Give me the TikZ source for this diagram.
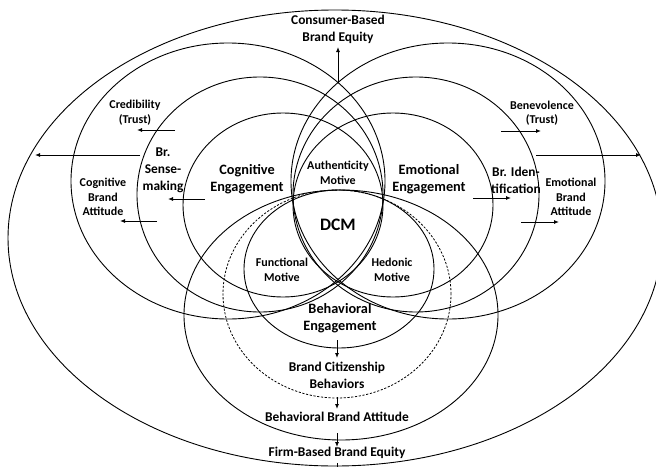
\documentclass[tikz,border=0pt]{standalone}
\usepackage{fontspec}
\setmainfont{Carlito}
\usepackage{tikz}
\usetikzlibrary{arrows.meta, positioning}

\begin{document}
\begin{tikzpicture}[x=1pt, y=-1pt, >={Latex[length=5pt,width=4pt]}, line width=0.9pt]
    \tikzstyle{ring} = [draw, line width=0.9pt]
    \tikzstyle{big} = [align=center, inner sep=0pt, font=\bfseries\fontsize{14.3}{17.5}\selectfont]
    \tikzstyle{mid} = [align=center, inner sep=0pt, font=\bfseries\fontsize{13.4}{17}\selectfont]
    \tikzstyle{small} = [align=center, inner sep=0pt, font=\bfseries\fontsize{12}{14.5}\selectfont]
    \useasboundingbox (0,0) rectangle (656,466);

    % equity
    \draw [ring] (335,238) ellipse [x radius=327pt, y radius=228pt];
    % cognitive
    \draw [ring] (283,205) ellipse [x radius=100pt, y radius=92pt];
    \draw [ring] (260,194.5) ellipse [x radius=123pt, y radius=117.5pt];
    \draw [ring] (228,181) ellipse [x radius=157pt, y radius=138pt];
    % emotional
    \draw [ring] (393,205) ellipse [x radius=100pt, y radius=92pt];
    \draw [ring] (416,194.5) ellipse [x radius=123pt, y radius=117.5pt];
    \draw [ring] (448,181) ellipse [x radius=157pt, y radius=138pt];
    % behavioral
    \draw [ring] (339,269) ellipse [x radius=95pt, y radius=79pt];
    \draw [ring, line width=0.8pt, dash pattern=on 2.2pt off 1.6pt] (337,294) ellipse [x radius=114pt, y radius=104pt];
    \draw [ring] (341,315) ellipse [x radius=157pt, y radius=125pt];

    \node [mid] (cbe) at (338,29) {Consumer-Based\\Brand Equity};
    \node [small] (cred) at (135,112.5) {Credibility\\(Trust)};
    \node [small] (bene) at (542,113) {Benevolence\\(Trust)};
    \node [mid] (sense) at (163,170) {Br.\\Sense-\\making};
    \node [mid] (ident) at (516,180) {Br. Iden-\\tification};
    \node [small] (cba) at (103,197) {Cognitive\\Brand\\Attitude};
    \node [small] (eba) at (571,197) {Emotional\\Brand\\Attitude};
    \node [big] (ce) at (247,179) {Cognitive\\Engagement};
    \node [big] (ee) at (429,179) {Emotional\\Engagement};
    \node [small] (am) at (338,173) {Authenticity\\Motive};
    \node [inner sep=0pt, font=\bfseries\fontsize{17.5}{20}\selectfont] (dcm) at (338,225) {DCM};
    \node [small] (fm) at (282,270) {Functional\\Motive};
    \node [small] (hm) at (392,270) {Hedonic\\Motive};
    \node [big] (be) at (340,318) {Behavioral\\Engagement};
    \node [mid] (bcb) at (337,375) {Brand Citizenship\\Behaviors};
    \node [mid] (bba) at (337,417) {Behavioral Brand Attitude};
    \node [mid] (fbe) at (337,453) {Firm-Based Brand Equity};

    \coordinate (top) at (338,83);
    \coordinate (credS) at (175,130);
    \coordinate (credE) at (137,130);
    \coordinate (leftS) at (140,155);
    \coordinate (leftE) at (35,155);
    \coordinate (senseS) at (205,199);
    \coordinate (senseE) at (168,199);
    \coordinate (cbaS) at (157,221);
    \coordinate (cbaE) at (120,221);
    \coordinate (beneS) at (501,131);
    \coordinate (beneE) at (541,131);
    \coordinate (rightS) at (536,155);
    \coordinate (rightE) at (641,155);
    \coordinate (identS) at (473,198);
    \coordinate (identE) at (511,198);
    \coordinate (ebaS) at (521,222);
    \coordinate (ebaE) at (559,222);
    \coordinate (beS) at (337,340);
    \coordinate (bcbS) at (337,397);
    \coordinate (bbaS) at (337,433);
    \coordinate (fbeS) at (337,463);
    \coordinate (bot) at (337,470);

    \draw [->] (top) -- (cbe.south |- 0,47);
    \draw [->] (credS) -- (credE);
    \draw [->] (leftS) -- (leftE);
    \draw [->] (senseS) -- (senseE);
    \draw [->] (cbaS) -- (cbaE);
    \draw [->] (beneS) -- (beneE);
    \draw [->] (rightS) -- (rightE);
    \draw [->] (identS) -- (identE);
    \draw [->] (ebaS) -- (ebaE);
    \draw [->] (beS) -- (bcb.north |- 0,358);
    \draw [->] (bcbS) -- (bba.north |- 0,409);
    \draw [->] (bbaS) -- (fbe.north |- 0,447);
    \draw (fbeS) -- (bot);
\end{tikzpicture}
\end{document}
